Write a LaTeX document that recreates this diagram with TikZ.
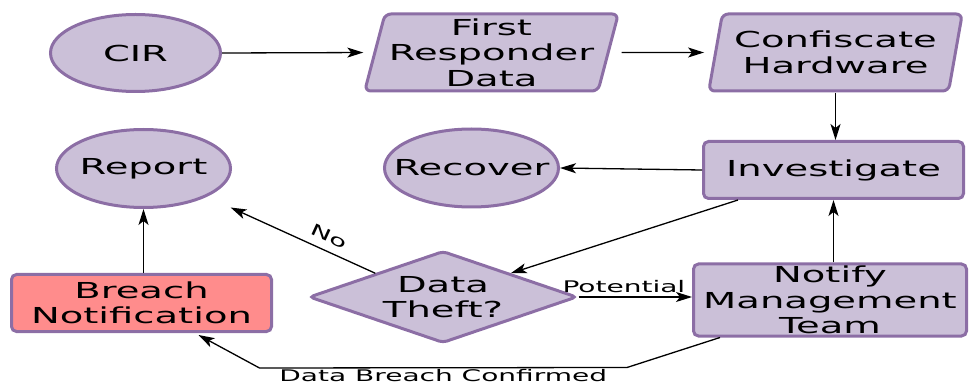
\documentclass[tikz,border=0pt]{standalone}
\usepackage{fontspec}
\setmainfont[FakeStretch=1.75]{DejaVu Sans}
\usetikzlibrary{shapes.geometric,arrows.meta,calc}
\definecolor{boxfill}{RGB}{203,192,216}
\definecolor{boxline}{RGB}{140,110,165}
\definecolor{alertfill}{RGB}{255,140,140}
% text whose width is ignored when an oval is sized
\newcommand{\ovaltext}[1]{\makebox[0pt]{#1}}
\begin{document}
\begin{tikzpicture}[x=1pt,y=1pt,
  base/.style={draw=boxline,line width=3pt,fill=boxfill,align=center,
    font=\fontsize{22}{25.5}\selectfont,inner sep=0pt},
  oval/.style={base,ellipse},
  rbox/.style={base,rectangle,rounded corners=5pt},
  slant/.style={base,trapezium,trapezium left angle=74,trapezium right angle=106,
    trapezium stretches=true,rounded corners=6pt,minimum width=254pt,minimum height=77pt},
  decide/.style={base,diamond,aspect=2.85,rounded corners=4pt,minimum width=268pt,minimum height=92pt},
  arr/.style={-{Stealth[length=16pt,width=10pt,inset=4pt]},line width=1.3pt},
  lbl/.style={font=\fontsize{16}{18}\selectfont,inner sep=3pt}]
\useasboundingbox (0,0) rectangle (969,383);

% nodes
\node[oval,minimum width=170pt,minimum height=77pt] (cir) at (135.5,330) {\ovaltext{CIR}};
\node[slant] (frd) at (491.5,330.5) {First\\Responder\\Data};
\node[slant] (conf) at (835.5,330.5) {Confiscate\\Hardware};
\node[rbox,minimum width=260pt,minimum height=57pt] (inv) at (833.5,213) {Investigate};
\node[oval,minimum width=174pt,minimum height=78pt] (rec) at (471.5,215) {\ovaltext{Recover}};
\node[oval,minimum width=174pt,minimum height=78pt] (rep) at (143.5,214.5) {\ovaltext{Report}};
\node[rbox,fill=alertfill,minimum width=260pt,minimum height=57pt] (bn) at (141.5,80) {Breach\\Notification};
\node[decide] (dt) at (443,86) {Data\\Theft?};
\node[rbox,minimum width=273pt,minimum height=72pt] (nmt) at (830,83) {Notify\\Management\\Team};

% connectors
\draw[arr,shorten >=10pt] (cir.east) -- (frd.west);
\draw[arr,shorten <=12pt,shorten >=10pt] (frd.east) -- (conf.west);
\draw[arr] (conf.south) -- (conf.south |- inv.north);
\draw[arr] (inv.west) -- (rec.east);
\draw[arr] (bn.north -| rep.south) -- (rep.south);
\draw[arr,shorten >=26pt] (dt.north west) -- node[lbl,sloped,above,pos=0.31,yshift=5pt]{No} (rep.-24);
\draw[arr] ([xshift=36pt]inv.south west) -- (dt.north east);
\draw[arr] (dt.east) -- node[lbl,above,pos=0.4,yshift=1pt]{Potential} (dt.east -| nmt.west);
\draw[arr] (nmt.north -| inv.south) -- (inv.south);
\coordinate (dbc1) at ($(nmt.south west)+(-65,-30)$);
\coordinate (dbc2) at ($(bn.south)+(118,-35)$);
\draw[arr] ([xshift=28pt]nmt.south west) -- (dbc1) -- node[lbl,below,pos=0.5,inner sep=1pt]{Data Breach Confirmed} (dbc2) -- ([xshift=57pt,yshift=-2pt]bn.south);
\end{tikzpicture}
\end{document}
